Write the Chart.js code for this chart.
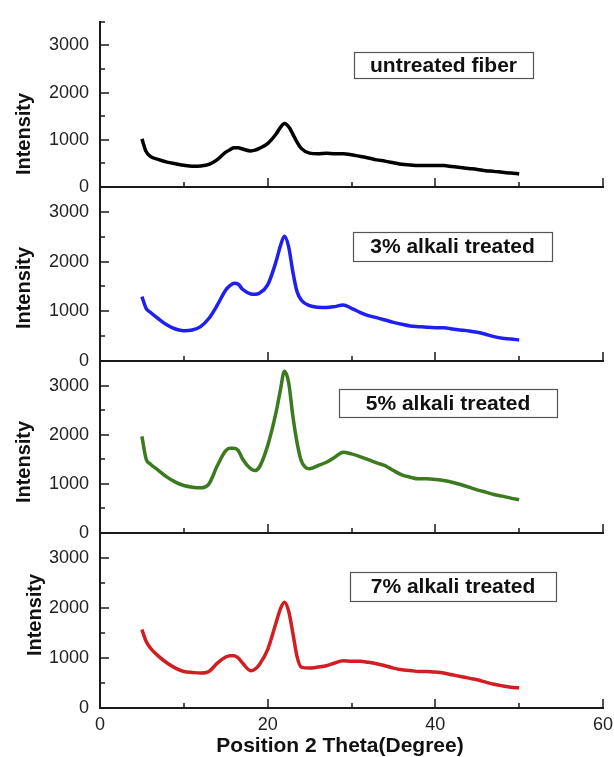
<!DOCTYPE html>
<html>
<head>
<meta charset="utf-8">
<script src="https://cdn.jsdelivr.net/npm/chart.js@4"></script>
<style>
  body { margin: 0; background: #fff; }
  #wrap { position: relative; width: 614px; height: 757px; }
  #wrap canvas { position: absolute; left: 0; top: 0; }
</style>
</head>
<body>
<div id="wrap">
  <canvas id="p0" width="614" height="757"></canvas>
  <canvas id="p1" width="614" height="757"></canvas>
  <canvas id="p2" width="614" height="757"></canvas>
  <canvas id="p3" width="614" height="757"></canvas>
</div>
<script>
// 2 theta positions (degree)
const theta = [5, 5.5, 6, 7, 8, 9, 10, 11, 12, 13, 14, 15, 15.5, 16, 16.5, 17, 18, 18.5, 19, 20,
  21, 21.5, 22, 22.5, 23, 23.5, 24, 25, 26, 27, 28, 29, 30, 31, 32, 33, 34, 35, 36, 37,
  38, 39, 40, 41, 42, 43, 44, 45, 46, 47, 48, 49, 50];

// intensity, one list per sample
const untreated = [1020, 750, 650, 580, 527, 493, 460, 440, 446, 480, 580, 737, 790, 830, 830, 805, 764, 780, 818, 920,
  1122, 1257, 1345, 1278, 1122, 953, 818, 717, 703, 717, 703, 703, 683, 650, 615, 575, 548, 514, 480, 466,
  453, 453, 453, 453, 433, 412, 392, 372, 345, 331, 311, 297, 277];
const alkali3 = [1295, 1060, 980, 845, 725, 644, 610, 624, 691, 859, 1127, 1429, 1516, 1563, 1543, 1443, 1349, 1342, 1362, 1530,
  2000, 2302, 2510, 2302, 1798, 1396, 1228, 1114, 1080, 1074, 1094, 1127, 1060, 980, 913, 872, 825, 778, 738, 705,
  691, 678, 671, 671, 644, 624, 604, 577, 537, 490, 456, 443, 423];
const alkali5 = [1967, 1507, 1406, 1271, 1136, 1034, 967, 933, 919, 1000, 1372, 1676, 1724, 1724, 1676, 1507, 1305, 1271, 1338, 1778,
  2454, 2893, 3290, 3062, 2386, 1845, 1474, 1305, 1372, 1440, 1541, 1643, 1609, 1555, 1494, 1426, 1372, 1271, 1183, 1136,
  1102, 1102, 1088, 1068, 1034, 987, 933, 879, 831, 784, 750, 710, 676];
const alkali7 = [1570, 1335, 1201, 1033, 899, 798, 731, 711, 698, 731, 899, 1020, 1047, 1047, 1000, 899, 745, 778, 866, 1168,
  1704, 1973, 2115, 1939, 1503, 1033, 819, 798, 819, 845, 899, 946, 933, 933, 913, 886, 845, 798, 765, 752,
  731, 731, 718, 698, 664, 631, 597, 564, 517, 476, 443, 416, 403];

const sampleLabels = ['untreated fiber', '3% alkali treated', '5% alkali treated', '7% alkali treated'];
const series = [untreated, alkali3, alkali5, alkali7];
const xTitle = 'Position 2 Theta(Degree)';

const xTickLabels = [0, 20, 40, 60];
const xTickMarks = [0, 10, 20, 30, 40, 50, 60];
const yTickLabels = [0, 1000, 2000, 3000];
const yTickMarks = [0, 500, 1000, 1500, 2000, 2500, 3000, 3500];

// layout of the four stacked panels (px)
const colors = ['#000000', '#1f1ff0', '#3b7a1f', '#d21d22'];
const panelTop = [14, 187, 361, 533];
const panelBottom = [187, 361, 533, 708];
const intensityPos = [[24, 134], [24, 288], [24, 462], [35, 615]];
const boxes = [[354, 52, 179, 26], [353, 232, 199, 29], [339, 389, 218, 28], [350, 572, 206, 29]];

Chart.defaults.font.family = '"Liberation Sans", Arial, sans-serif';
Chart.defaults.color = '#222';

// inward ticks, rotated axis title, x title and the label boxes
const panelDecor = {
  id: 'panelDecor',
  afterDraw(chart, args, opts) {
    const ctx = chart.ctx;
    const a = chart.chartArea;
    const xs = chart.scales.x, ys = chart.scales.y;
    ctx.save();
    ctx.strokeStyle = '#1a1a1a';
    ctx.lineWidth = 1.5;
    ctx.beginPath();
    xTickMarks.forEach(v => {
      const px = Math.round(xs.getPixelForValue(v));
      const len = xTickLabels.includes(v) ? 9 : 5;
      ctx.moveTo(px, a.bottom);
      ctx.lineTo(px, a.bottom - len);
    });
    yTickMarks.forEach(v => {
      const py = Math.round(ys.getPixelForValue(v));
      const len = yTickLabels.includes(v) ? 9 : 5;
      ctx.moveTo(a.left, py);
      ctx.lineTo(a.left + len, py);
    });
    ctx.stroke();

    ctx.fillStyle = '#111';
    ctx.font = 'bold 21px "Liberation Sans", Arial, sans-serif';
    ctx.textAlign = 'center';
    ctx.textBaseline = 'middle';

    // label box
    const b = opts.box;
    ctx.strokeStyle = '#555';
    ctx.lineWidth = 1.2;
    ctx.strokeRect(b[0] + 0.5, b[1] + 0.5, b[2], b[3]);
    ctx.fillText(opts.label, b[0] + b[2] / 2, b[1] + b[3] / 2 + 1);

    // x title under the last panel
    if (opts.xTitle) ctx.fillText(opts.xTitle, 340, 746);

    // Intensity
    ctx.font = 'bold 20px "Liberation Sans", Arial, sans-serif';
    ctx.translate(opts.titlePos[0], opts.titlePos[1]);
    ctx.rotate(-Math.PI / 2);
    ctx.fillText('Intensity', 0, 0);
    ctx.restore();
  }
};

const makePanel = i => {
  const last = i === series.length - 1;
  new Chart(document.getElementById('p' + i), {
    type: 'line',
    data: {
      datasets: [{
        label: sampleLabels[i],
        data: theta.map((t, k) => ({x: t, y: series[i][k]})),
        borderColor: colors[i],
        borderWidth: 3.5,
        pointRadius: 0,
        tension: 0.3,
        cubicInterpolationMode: 'monotone',
        fill: false
      }]
    },
    options: {
      responsive: false,
      animation: false,
      events: [],
      layout: {
        padding: {top: panelTop[i], left: 0, right: 11, bottom: last ? 0 : 757 - panelBottom[i]}
      },
      plugins: {
        legend: {display: false},
        tooltip: {enabled: false},
        panelDecor: {label: sampleLabels[i], box: boxes[i], titlePos: intensityPos[i], xTitle: last ? xTitle : null}
      },
      scales: {
        x: {
          type: 'linear',
          min: 0,
          max: 60,
          afterBuildTicks: s => { s.ticks = xTickLabels.map(v => ({value: v})); },
          afterFit: s => {
            s.height = last ? 49 : 0;
            s.paddingLeft = 0;
            s.paddingRight = 0;
          },
          grid: {display: true, drawOnChartArea: false, drawTicks: false},
          border: {display: true, color: '#1a1a1a', width: 2},
          ticks: {display: last, padding: 6, font: {size: 18}, color: '#222', maxRotation: 0,
            callback: v => String(v)}
        },
        y: {
          min: 0,
          max: 3500,
          afterBuildTicks: s => { s.ticks = yTickLabels.map(v => ({value: v})); },
          afterFit: s => { s.width = 100; },
          grid: {display: true, drawOnChartArea: false, drawTicks: false},
          border: {display: true, color: '#1a1a1a', width: 2},
          ticks: {padding: 11, font: {size: 18}, color: '#222', callback: v => String(v)}
        }
      }
    },
    plugins: [panelDecor]
  });
};

series.forEach((s, i) => makePanel(i));
</script>
</body>
</html>
